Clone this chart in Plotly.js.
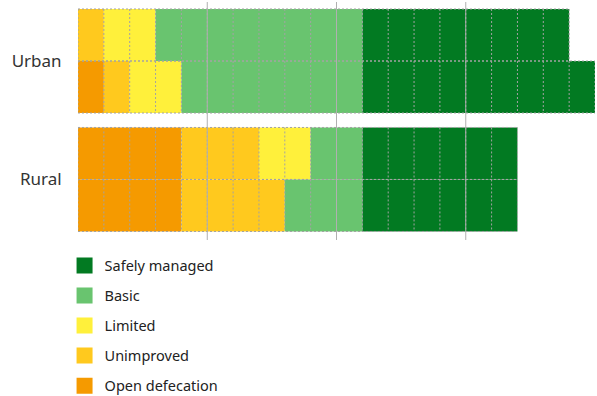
<!DOCTYPE html>
<html>
<head>
<meta charset="utf-8">
<script src="https://cdn.plot.ly/plotly-3.0.1.min.js"></script>
<style>html,body{margin:0;padding:0;background:#fff;}#chart{width:597px;height:396px;}</style>
</head>
<body>
<div id="chart"></div>
<script>
// Rows: two bars per area (top, bottom), values are cell counts (each cell = one unit)
const areas = ['Urban', 'Rural'];
const rowArea = [0, 0, 1, 1];
const rowSub = [0, 1, 0, 1];
const categories = ['Open defecation', 'Unimproved', 'Limited', 'Basic', 'Safely managed'];
const openDefecation = [0, 1, 4, 4];
const unimproved = [1, 1, 3, 4];
const limited = [2, 2, 2, 0];
const basic = [8, 7, 2, 3];
const safelyManaged = [8, 9, 6, 6];
const colors = ['#F59A00', '#FFC91E', '#FFF03B', '#69C46F', '#027A22'];
const gridTicks = [5, 10, 15];

const series = [openDefecation, unimproved, limited, basic, safelyManaged];
const H = 0.439;
const rowY = rowArea.map((a, i) => a + (rowSub[i] === 0 ? -H / 2 : H / 2));

const traces = [];
const cum = rowY.map(() => 0);
series.forEach((vals, s) => {
  traces.push({
    type: 'bar', orientation: 'h',
    x: vals.slice(), base: cum.slice(), y: rowY, width: H,
    marker: {color: colors[s], line: {width: 0}},
    name: categories[s], showlegend: false, hoverinfo: 'skip'
  });
  vals.forEach((v, i) => { cum[i] += v; });
});

// dotted cell borders
const lx = [], ly = [];
rowY.forEach((yc, i) => {
  const total = cum[i];
  const y0 = yc - H / 2, y1 = yc + H / 2;
  lx.push(0, total, null, 0, total, null);
  ly.push(y0, y0, null, y1, y1, null);
  for (let k = 0; k <= total; k++) {
    lx.push(k, k, null);
    ly.push(y0, y1, null);
  }
});
traces.push({
  type: 'scatter', mode: 'lines', x: lx, y: ly,
  line: {color: '#a3a3a3', width: 1, dash: '2px,2px'},
  showlegend: false, hoverinfo: 'skip'
});

// legend entries, top to bottom
for (let s = categories.length - 1; s >= 0; s--) {
  traces.push({
    type: 'scatter', mode: 'markers', x: [null], y: [null],
    marker: {symbol: 'square', size: 16, color: colors[s]},
    name: categories[s], legendgroup: 'g' + s, showlegend: true
  });
}

const shapes = gridTicks.map(g => ({
  type: 'line', xref: 'x', yref: 'paper', x0: g, x1: g, y0: 0, y1: 1,
  line: {color: '#b0b0b0', width: 1}, layer: 'above'
}));

const layout = {
  width: 597, height: 396,
  margin: {l: 78, r: 2, t: 2, b: 156, autoexpand: false},
  paper_bgcolor: '#fff', plot_bgcolor: '#fff',
  font: {family: 'Noto Sans, sans-serif', color: '#222'},
  barmode: 'overlay',
  xaxis: {range: [0, 20], showgrid: false, zeroline: false, showticklabels: false, showline: false, fixedrange: true},
  yaxis: {range: [1.511, -0.498], tickvals: [0, 1], ticktext: areas, showgrid: false, zeroline: false,
          ticks: 'outside', ticklen: 12, tickcolor: 'rgba(0,0,0,0)', tickfont: {size: 17, color: '#333'}},
  shapes: shapes,
  showlegend: true,
  legend: {x: -0.026, xanchor: 'left', y: -0.04, yanchor: 'top', orientation: 'v',
           font: {size: 14.5, color: '#222'}, tracegroupgap: 8.2, traceorder: 'grouped'}
};

Plotly.newPlot('chart', traces, layout, {displayModeBar: false, staticPlot: true});
</script>
</body>
</html>
